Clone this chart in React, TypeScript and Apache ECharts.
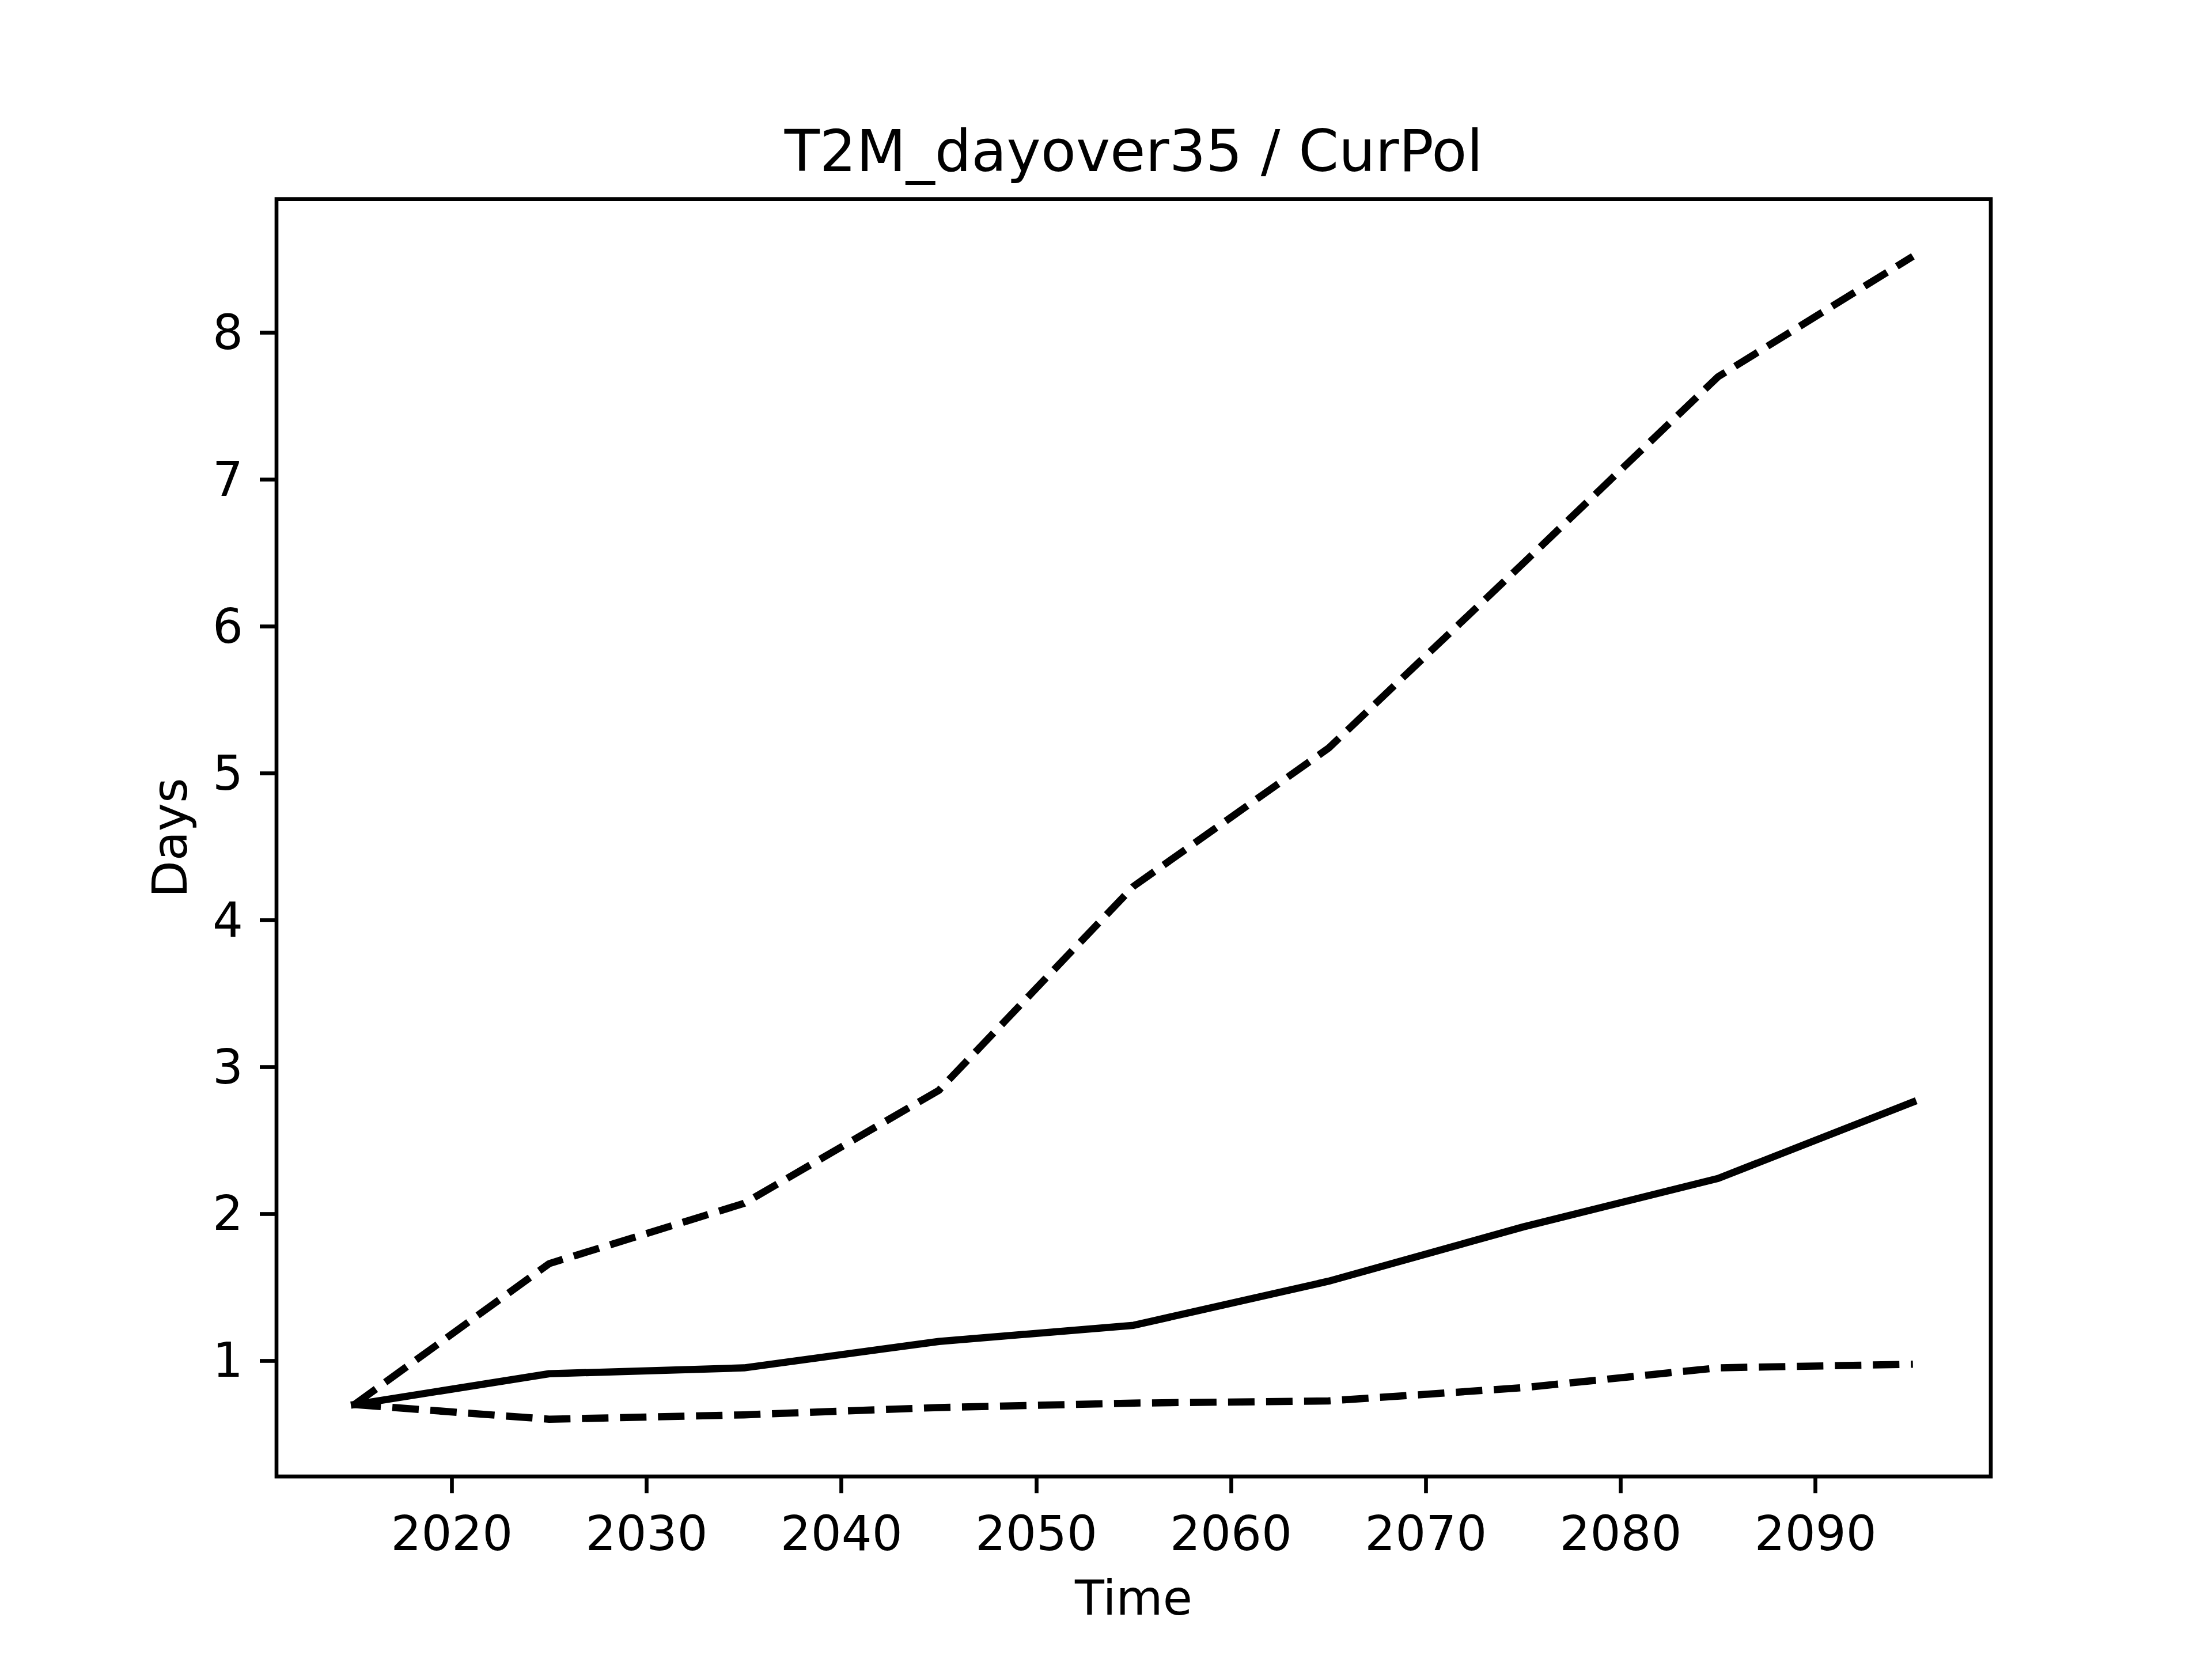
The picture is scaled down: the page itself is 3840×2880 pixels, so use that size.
import React, { useEffect, useRef } from "react";
import * as echarts from "echarts";

const years = [2015, 2025, 2035, 2045, 2055, 2065, 2075, 2085, 2095];
const upperValues = [0.70, 1.66, 2.07, 2.84, 4.23, 5.17, 6.43, 7.70, 8.52];
const medianValues = [0.70, 0.91, 0.95, 1.13, 1.24, 1.54, 1.91, 2.24, 2.76];
const lowerValues = [0.70, 0.60, 0.63, 0.68, 0.71, 0.725, 0.815, 0.95, 0.975];
const xTicks = [2020, 2030, 2040, 2050, 2060, 2070, 2080, 2090];
const yTicks = [1, 2, 3, 4, 5, 6, 7, 8];

const FONT = "DejaVu Sans";

export default function App() {
  const ref = useRef<HTMLDivElement>(null);
  useEffect(() => {
    document.body.style.margin = "0";
    const chart = echarts.init(ref.current!, null, { renderer: "svg" });
    const pairs = (vals: number[]) => years.map((y, i) => [y, vals[i]]);
    const dashed = { color: "#000", width: 12.5, type: [46, 20] as any, cap: "butt" as const, join: "round" as const };
    chart.setOption({
      animation: false,
      backgroundColor: "#fff",
      title: {
        text: "T2M_dayover35 / CurPol",
        left: 1968,
        textAlign: "center",
        top: 212,
        textStyle: { fontFamily: FONT, fontSize: 100, fontWeight: "normal", color: "#000" },
        padding: 0,
      },
      grid: {
        left: 480,
        right: 384,
        top: 345.6,
        bottom: 316.8,
        show: true,
        borderColor: "#000",
        borderWidth: 6.67,
        backgroundColor: "transparent",
      },
      xAxis: {
        type: "value",
        min: 2011,
        max: 2099,
        name: "Time",
        nameLocation: "middle",
        nameGap: 170,
        nameTextStyle: { fontFamily: FONT, fontSize: 83.3, color: "#000" },
        axisLine: { show: false },
        splitLine: { show: false },
        axisTick: { show: true, inside: false, length: 29, lineStyle: { color: "#000", width: 6.67 }, customValues: xTicks },
        axisLabel: { fontFamily: FONT, fontSize: 83.3, color: "#000", margin: 58, customValues: xTicks, formatter: (v: number) => String(v) },
      },
      yAxis: {
        type: "value",
        min: 0.21,
        max: 8.91,
        name: "Days",
        nameLocation: "middle",
        nameGap: 143,
        nameTextStyle: { fontFamily: FONT, fontSize: 83.3, color: "#000" },
        axisLine: { show: false },
        splitLine: { show: false },
        axisTick: { show: true, inside: false, length: 29, lineStyle: { color: "#000", width: 6.67 }, customValues: yTicks },
        axisLabel: { fontFamily: FONT, fontSize: 83.3, color: "#000", margin: 58, customValues: yTicks, formatter: (v: number) => String(v) },
      },
      series: [
        { type: "line", data: pairs(upperValues), symbol: "none", lineStyle: dashed },
        { type: "line", data: pairs(medianValues), symbol: "none", lineStyle: { color: "#000", width: 12.5, type: "solid", cap: "square", join: "round" } },
        { type: "line", data: pairs(lowerValues), symbol: "none", lineStyle: dashed },
      ],
    });
    return () => chart.dispose();
  }, []);
  return <div ref={ref} style={{ width: 3840, height: 2880 }} />;
}
